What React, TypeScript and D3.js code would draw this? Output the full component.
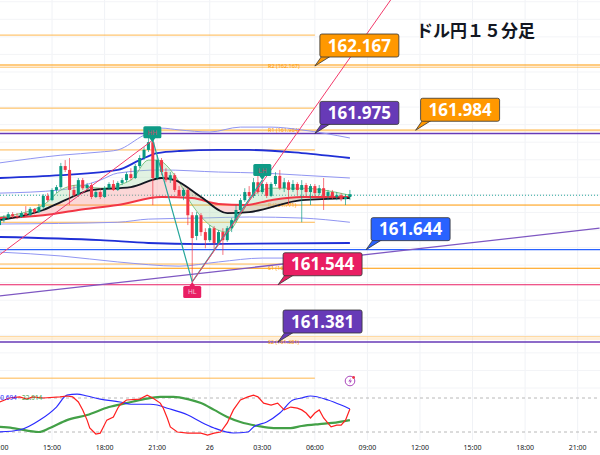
import React from 'react';
import * as d3 from 'd3';

const W = 600, H = 455;
const T0 = new Date(2024, 5, 25, 12, 0);
const STEP = 15 * 60 * 1000;

// 15-minute candles [open, high, low, close], first at 25 Jun 12:00
const ohlc: [number, number, number, number][] = [
  [161.714, 161.734, 161.708, 161.728], [161.728, 161.742, 161.722, 161.734], [161.734, 161.751, 161.731, 161.745],
  [161.745, 161.751, 161.734, 161.740], [161.740, 161.748, 161.731, 161.737], [161.737, 161.754, 161.734, 161.748],
  [161.748, 161.768, 161.737, 161.742], [161.742, 161.765, 161.740, 161.760], [161.760, 161.762, 161.745, 161.751],
  [161.751, 161.774, 161.748, 161.765], [161.765, 161.802, 161.760, 161.797], [161.797, 161.805, 161.780, 161.785],
  [161.785, 161.819, 161.782, 161.814], [161.814, 161.828, 161.805, 161.822], [161.822, 161.891, 161.817, 161.882],
  [161.882, 161.899, 161.865, 161.871], [161.871, 161.905, 161.771, 161.814], [161.814, 161.828, 161.794, 161.799],
  [161.799, 161.848, 161.794, 161.842], [161.842, 161.848, 161.814, 161.819], [161.819, 161.834, 161.814, 161.828],
  [161.828, 161.834, 161.788, 161.794], [161.794, 161.814, 161.791, 161.808], [161.808, 161.819, 161.788, 161.794],
  [161.794, 161.825, 161.791, 161.819], [161.819, 161.836, 161.814, 161.831], [161.831, 161.842, 161.811, 161.814],
  [161.814, 161.839, 161.811, 161.834], [161.834, 161.848, 161.828, 161.842], [161.842, 161.865, 161.836, 161.859],
  [161.859, 161.876, 161.842, 161.848], [161.848, 161.888, 161.845, 161.882], [161.882, 161.913, 161.876, 161.905],
  [161.905, 161.936, 161.899, 161.928], [161.928, 161.962, 161.922, 161.950], [161.950, 161.970, 161.771, 161.848],
  [161.848, 161.913, 161.842, 161.899], [161.899, 161.905, 161.856, 161.865], [161.865, 161.876, 161.836, 161.842],
  [161.842, 161.865, 161.834, 161.856], [161.856, 161.862, 161.808, 161.814], [161.814, 161.825, 161.791, 161.797],
  [161.797, 161.819, 161.785, 161.814], [161.814, 161.819, 161.714, 161.742], [161.742, 161.751, 161.552, 161.677],
  [161.683, 161.751, 161.671, 161.742], [161.742, 161.748, 161.683, 161.694], [161.694, 161.705, 161.648, 161.671],
  [161.671, 161.714, 161.666, 161.705], [161.705, 161.711, 161.643, 161.663], [161.663, 161.700, 161.657, 161.694],
  [161.694, 161.705, 161.629, 161.671], [161.671, 161.711, 161.666, 161.705], [161.705, 161.734, 161.694, 161.728],
  [161.728, 161.771, 161.722, 161.757], [161.757, 161.791, 161.751, 161.785], [161.785, 161.819, 161.780, 161.808],
  [161.808, 161.825, 161.791, 161.797], [161.797, 161.848, 161.791, 161.836], [161.836, 161.865, 161.802, 161.808],
  [161.808, 161.842, 161.802, 161.831], [161.831, 161.836, 161.791, 161.797], [161.797, 161.836, 161.794, 161.831],
  [161.831, 161.865, 161.825, 161.854], [161.854, 161.871, 161.814, 161.819], [161.819, 161.848, 161.808, 161.836],
  [161.836, 161.842, 161.771, 161.814], [161.814, 161.842, 161.808, 161.831], [161.831, 161.836, 161.799, 161.814],
  [161.814, 161.842, 161.722, 161.828], [161.828, 161.834, 161.797, 161.808], [161.808, 161.831, 161.771, 161.825],
  [161.825, 161.831, 161.791, 161.805], [161.805, 161.828, 161.799, 161.819], [161.819, 161.848, 161.757, 161.797],
  [161.797, 161.814, 161.785, 161.808], [161.808, 161.814, 161.788, 161.794], [161.794, 161.808, 161.785, 161.799],
  [161.799, 161.805, 161.782, 161.788], [161.788, 161.802, 161.771, 161.794], [161.794, 161.814, 161.785, 161.802],
];

// indicator lines: [candle index, price]
const bandUpperOuter: [number, number][] = [[0, 161.891], [14, 161.913], [23, 161.922], [27, 161.928], [33, 161.970], [37, 161.990], [41, 161.985], [48, 161.979], [55, 161.993], [62, 161.993], [69, 161.985], [80, 161.962]];
const bandUpper: [number, number][] = [[0, 161.848], [14, 161.856], [27, 161.871], [32, 161.899], [36, 161.919], [41, 161.925], [50, 161.928], [57, 161.928], [69, 161.919], [80, 161.905]];
const bandMidUpper: [number, number][] = [[0, 161.805], [14, 161.814], [23, 161.842], [27, 161.862], [37, 161.871], [50, 161.865], [60, 161.862], [69, 161.856], [80, 161.848]];
const bandMidLower: [number, number][] = [[0, 161.717], [27, 161.722], [34, 161.731], [46, 161.734], [57, 161.737], [69, 161.734], [80, 161.722]];
const bandLower: [number, number][] = [[0, 161.680], [23, 161.671], [34, 161.663], [46, 161.660], [80, 161.663]];
const bandLowerOuter: [number, number][] = [[0, 161.637], [14, 161.626], [27, 161.609], [41, 161.597], [50, 161.609], [60, 161.620], [69, 161.620], [80, 161.614]];
const emaBlack: [number, number][] = [[0, 161.728], [10, 161.757], [15, 161.785], [21, 161.814], [30, 161.822], [37, 161.848], [40, 161.842], [46, 161.794], [52, 161.748], [57, 161.751], [69, 161.785], [80, 161.791]];
const emaRed: [number, number][] = [[0, 161.734], [10, 161.742], [18, 161.757], [27, 161.771], [37, 161.794], [44, 161.791], [50, 161.774], [56, 161.771], [62, 161.785], [69, 161.794], [80, 161.794]];
const emaFast: [number, number][] = [[0, 161.737], [10, 161.771], [14, 161.814], [18, 161.828], [23, 161.819], [30, 161.842], [34, 161.899], [36, 161.899], [40, 161.856], [44, 161.771], [48, 161.714], [52, 161.694], [55, 161.742], [58, 161.799], [62, 161.819], [69, 161.819], [80, 161.799]];

// horizontal levels
const fullLevels = [
  { p: 162.167, color: '#FF9800', w: 1, dbl: true },
  { p: 161.984, color: '#FFCC80', w: 2, dbl: false },
  { p: 161.975, color: '#673AB7', w: 1.5, dbl: false },
  { p: 161.771, color: '#FF9800', w: 1, dbl: false },
  { p: 161.644, color: '#2962FF', w: 1.2, dbl: false },
  { p: 161.591, color: '#FF9800', w: 1, dbl: false },
  { p: 161.544, color: '#E91E63', w: 1.2, dbl: false },
  { p: 161.393, color: '#FFCC80', w: 1, dbl: true },
  { p: 161.381, color: '#673AB7', w: 1.3, dbl: false },
];
const shortLevels = [162.255, 162.047, 161.928, 161.722, 161.603, 161.278];
const pivotTexts = [
  { p: 162.167, t: 'R2 (162.167)' }, { p: 161.984, t: 'R1 (161.984)' }, { p: 161.771, t: 'P (161.771)' },
  { p: 161.591, t: 'S1 (161.591)' }, { p: 161.381, t: 'S2 (161.381)' },
];
const callouts = [
  { i: 72, p: 162.167, t: '162.167', c: '#FF9800' },
  { i: 72, p: 161.975, t: '161.975', c: '#673AB7' },
  { i: 95, p: 161.984, t: '161.984', c: '#FF9800' },
  { i: 83.7, p: 161.644, t: '161.644', c: '#2962FF' },
  { i: 63.6, p: 161.544, t: '161.544', c: '#E91E63' },
  { i: 63.6, p: 161.381, t: '161.381', c: '#673AB7' },
];
const pink1: [number, number][] = [[0, 161.629], [35, 161.956]];
const pink2: [number, number][] = [[44, 161.552], [95, 162.456]];
const purpleTrend: [number, number][] = [[0, 161.512], [137, 161.705]];
const zigzag: [number, number][] = [[35, 161.956], [44, 161.552], [60, 161.842]];
const swings = [
  { i: 34.9, p: 161.950, t: 'HH', c: '#0e9b86', up: false },
  { i: 44, p: 161.552, t: 'HL', c: '#E91E63', up: true },
  { i: 60, p: 161.842, t: 'LH', c: '#0e9b86', up: false },
];

// oscillator: [candle index, value]
const oscRed: [number, number][] = [[0, 73], [2.3, 80], [4.6, 82], [6.2, 78], [7.6, 82], [10, 80], [13.8, 82], [15.4, 83.5], [16.7, 82], [18, 73], [19, 59], [20, 41], [20.6, 27], [22, 16.5], [23, 18], [23.6, 27], [24.5, 41], [26, 46.5], [27, 62], [27.5, 67.6], [29, 76.5], [32, 78], [33.7, 85], [35, 80], [36.7, 71], [37.4, 62], [38.3, 44.7], [39, 29], [40.6, 20], [43, 18], [46, 18], [47.5, 14.7], [49, 18], [50.5, 20], [52, 36], [53.4, 59], [55, 76.5], [56.7, 82], [58, 85], [59, 82], [60.3, 71], [62, 67.6], [63.5, 71], [65, 59], [66.5, 64], [68, 62], [69, 59], [70, 53.5], [71, 44.7], [72, 53.5], [73, 59], [74, 44.7], [75.7, 29], [77, 32], [78, 32], [79, 41], [80, 60.6]];
const oscBlue: [number, number][] = [[0, 20], [4.6, 23.5], [9.2, 41], [13, 64], [15.4, 85], [17.7, 87], [20, 83.5], [23, 78], [27.5, 73], [30, 69], [34.4, 69], [36, 67.6], [38.3, 62], [41.3, 55], [43, 50], [46, 37.6], [49, 27], [53.4, 18.2], [56.7, 20], [58, 29], [61, 37.6], [64, 53.5], [67, 76.5], [69, 80], [71, 83.5], [75, 76.5], [78, 67.6], [80, 60.7]];
const oscGreen: [number, number][] = [[0, 29], [3, 27], [9, 20], [11.5, 27], [15.4, 41], [20, 50], [25, 64], [29, 71], [33, 78], [36.7, 82], [39.7, 82], [43, 78], [46, 71], [49, 59], [52, 46.5], [55, 37.6], [59, 30.6], [62.6, 27], [66.5, 27], [69, 30.6], [73, 34], [76, 36], [80, 41]];
const oscLevels = [80, 20];
const lastPrice = 161.799;

const tAt = (i: number) => new Date(T0.getTime() + i * STEP);
const x = d3.scaleTime().domain([T0, new Date(2024, 5, 27, 0, 0)]).range([-0.5, -0.5 + 36 * 17.52]);
const xi = (i: number) => x(tAt(i));
const y = d3.scaleLinear().domain([161.381, 162.167]).range([342, 66]);
const yo = d3.scaleLinear().domain([20, 80]).range([432, 398]);

const PANE_BOTTOM = 385;
const ticks = x.ticks(d3.timeHour.every(3)!).filter(t => x(t) <= W);
const fmt = (d: Date) => (d.getHours() === 0 ? String(d.getDate()) : d3.timeFormat('%H:%M')(d));
const priceGrid = d3.range(161.25, 162.40, 0.05);

const smooth = d3.line<[number, number]>().x(d => xi(d[0])).y(d => y(d[1])).curve(d3.curveMonotoneX);
const straight = d3.line<[number, number]>().x(d => xi(d[0])).y(d => y(d[1]));
const oscSmooth = d3.line<[number, number]>().x(d => xi(d[0])).y(d => yo(d[1])).curve(d3.curveMonotoneX);
const oscLin = d3.line<[number, number]>().x(d => xi(d[0])).y(d => yo(d[1]));

function areaBetween(a: [number, number][], b: [number, number][]) {
  const top = smooth(a) || '';
  const rev = [...b].reverse();
  const bot = smooth(rev) || '';
  return top + 'L' + bot.slice(1) + 'Z';
}

function Callout({ ax, ay, text, color }: { ax: number; ay: number; text: string; color: string }) {
  const bx = ax + 5, by = ay - 32, w = 79, h = 23;
  return (
    <g>
      <path d={`M${bx + 2},${by + h - 1} L${ax},${ay} L${bx + 11},${by + h - 1}Z`} fill={color} stroke="#333" strokeWidth={0.8} />
      <rect x={bx} y={by} width={w} height={h} rx={2} fill={color} stroke="#333" strokeWidth={0.8} />
      <text x={bx + w / 2} y={by + h / 2 + 6} textAnchor="middle" fill="#fff" fontWeight="bold" fontSize={17} fontFamily="'Noto Sans', sans-serif">{text}</text>
    </g>
  );
}

function Swing({ ax, ay, text, color, up }: { ax: number; ay: number; text: string; color: string; up: boolean }) {
  const s = up ? 1 : -1;
  const rectY = up ? ay + 4 : ay - 16;
  return (
    <g>
      <path d={`M${ax - 3.5},${ay + s * 5} L${ax},${ay} L${ax + 3.5},${ay + s * 5}Z`} fill={color} />
      <rect x={ax - 9} y={rectY} width={18} height={12} rx={1.5} fill={color} />
      <text x={ax} y={rectY + 8.5} textAnchor="middle" fontSize={6.5} fontFamily="'DejaVu Sans', sans-serif" fill={up ? '#f3c6d6' : '#c2506a'}>{text}</text>
    </g>
  );
}

export default function App() {
  const cw = 3;
  return (
    <svg width={W} height={H} style={{ position: 'absolute', left: 0, top: 0, background: '#fff' }} fontFamily="'Noto Sans', sans-serif">
      <defs>
        <clipPath id="pane"><rect x={0} y={0} width={W} height={PANE_BOTTOM} /></clipPath>
      </defs>
      {/* grid */}
      {ticks.map((t, k) => (
        <line key={'v' + k} x1={x(t)} x2={x(t)} y1={0} y2={440} stroke="#f0f2f6" strokeWidth={1} />
      ))}
      {priceGrid.map((p, k) => (
        <line key={'h' + k} x1={0} x2={W} y1={y(p)} y2={y(p)} stroke="#f3f4f7" strokeWidth={1} />
      ))}
      <g clipPath="url(#pane)">
        {/* short orange levels */}
        {shortLevels.map((p, k) => (
          <line key={'s' + k} x1={0} x2={xi(72)} y1={y(p)} y2={y(p)} stroke="#FFB74D" strokeWidth={1} />
        ))}
        {/* full levels */}
        {fullLevels.map((l, k) => l.dbl ? (
          <g key={'f' + k}>
            <line x1={0} x2={W} y1={y(l.p) - 1} y2={y(l.p) - 1} stroke={l.color} strokeWidth={l.w} />
            <line x1={0} x2={W} y1={y(l.p) + 1.2} y2={y(l.p) + 1.2} stroke={l.color} strokeWidth={l.w} opacity={0.6} />
          </g>
        ) : (
          <line key={'f' + k} x1={0} x2={W} y1={y(l.p)} y2={y(l.p)} stroke={l.color} strokeWidth={l.w} />
        ))}
        {pivotTexts.map((p, k) => (
          <text key={'pt' + k} x={268} y={y(p.p) + 2} fontSize={5.5} fill="#FF9800">{p.t}</text>
        ))}
        {/* last price dotted line */}
        <line x1={0} x2={W} y1={y(lastPrice)} y2={y(lastPrice)} stroke="#26a69a" strokeWidth={1} strokeDasharray="1,2" />
        {/* bands */}
        <path d={smooth(bandUpperOuter) || ''} fill="none" stroke="#9095f2" strokeWidth={1} />
        <path d={smooth(bandMidUpper) || ''} fill="none" stroke="#9095f2" strokeWidth={1} />
        <path d={smooth(bandMidLower) || ''} fill="none" stroke="#9095f2" strokeWidth={1} />
        <path d={smooth(bandLowerOuter) || ''} fill="none" stroke="#9095f2" strokeWidth={1} />
        <path d={smooth(bandUpper) || ''} fill="none" stroke="#1f2fd6" strokeWidth={1.8} />
        <path d={smooth(bandLower) || ''} fill="none" stroke="#1f2fd6" strokeWidth={1.8} />
        {/* ribbons */}
        <path d={areaBetween(emaBlack, emaRed)} fill="#f59a9a" opacity={0.4} />
        <path d={areaBetween(emaFast, emaBlack)} fill="#a9d9ac" opacity={0.35} />
        <path d={smooth(emaFast) || ''} fill="none" stroke="#66bb6a" strokeWidth={0.8} />
        <path d={smooth(emaRed) || ''} fill="none" stroke="#f23645" strokeWidth={2} />
        <path d={smooth(emaBlack) || ''} fill="none" stroke="#131722" strokeWidth={1.8} />
        {/* candles */}
        {ohlc.map((d, i) => {
          const [o, h, l, c] = d;
          const up = c >= o;
          const col = up ? '#089981' : '#F23645';
          const cx = xi(i);
          const top = y(Math.max(o, c)), bot = y(Math.min(o, c));
          return (
            <g key={'c' + i}>
              <line x1={cx} x2={cx} y1={y(h)} y2={y(l)} stroke={col} strokeWidth={0.8} opacity={0.85} />
              <rect x={cx - cw / 2} y={top} width={cw} height={Math.max(1, bot - top)} fill={col} />
            </g>
          );
        })}
        {/* trend lines */}
        <path d={straight(purpleTrend) || ''} fill="none" stroke="#7e57c2" strokeWidth={1.3} />
        <path d={straight(zigzag) || ''} fill="none" stroke="#26a69a" strokeWidth={1.2} />
        <path d={straight(pink1) || ''} fill="none" stroke="#f23a6b" strokeWidth={1} />
        <path d={straight(pink2) || ''} fill="none" stroke="#f23a6b" strokeWidth={1} />
        {swings.map((s, k) => (
          <Swing key={'sw' + k} ax={xi(s.i)} ay={y(s.p)} text={s.t} color={s.c} up={s.up} />
        ))}
      </g>
      {/* callouts */}
      {callouts.map((c, k) => (
        <Callout key={'co' + k} ax={xi(c.i)} ay={y(c.p)} text={c.t} color={c.c} />
      ))}
      {/* title */}
      <text x={416} y={37} fontSize={17} fontWeight="bold" fill="#131722" fontFamily="'Noto Sans CJK JP', sans-serif">ドル円１５分足</text>
      {/* lightning icon */}
      <g>
        <circle cx={350} cy={381} r={4.8} fill="#fff" stroke="#ab47bc" strokeWidth={1} />
        <path d="M351,377.8 L348.3,381.4 L350.2,381.4 L349.2,384.2 L352,380.5 L350.1,380.5 Z" fill="#ab47bc" />
        <circle cx={353.6} cy={377.4} r={1.4} fill="#f23645" />
      </g>
      {/* oscillator pane */}
      {oscLevels.map((v, k) => (
        <line key={'ol' + k} x1={0} x2={W} y1={yo(v)} y2={yo(v)} stroke="#b8b8b8" strokeWidth={1} strokeDasharray="3,3" />
      ))}
      <path d={oscSmooth(oscGreen) || ''} fill="none" stroke="#43a047" strokeWidth={2.2} />
      <path d={oscSmooth(oscBlue) || ''} fill="none" stroke="#2b2bff" strokeWidth={1.2} />
      <path d={oscLin(oscRed) || ''} fill="none" stroke="#ff1f1f" strokeWidth={1.2} />
      <text x={-3.5} y={399.5} fontSize={6.5} fill="#2b2bff">60.694</text>
      <text x={22} y={399.5} fontSize={6.5} fill="#43a047">22.914</text>
      {/* time axis */}
      {ticks.map((t, k) => (
        <text key={'tl' + k} x={x(t)} y={450} textAnchor="middle" fontSize={7} fill="#131722">{fmt(t)}</text>
      ))}
    </svg>
  );
}
